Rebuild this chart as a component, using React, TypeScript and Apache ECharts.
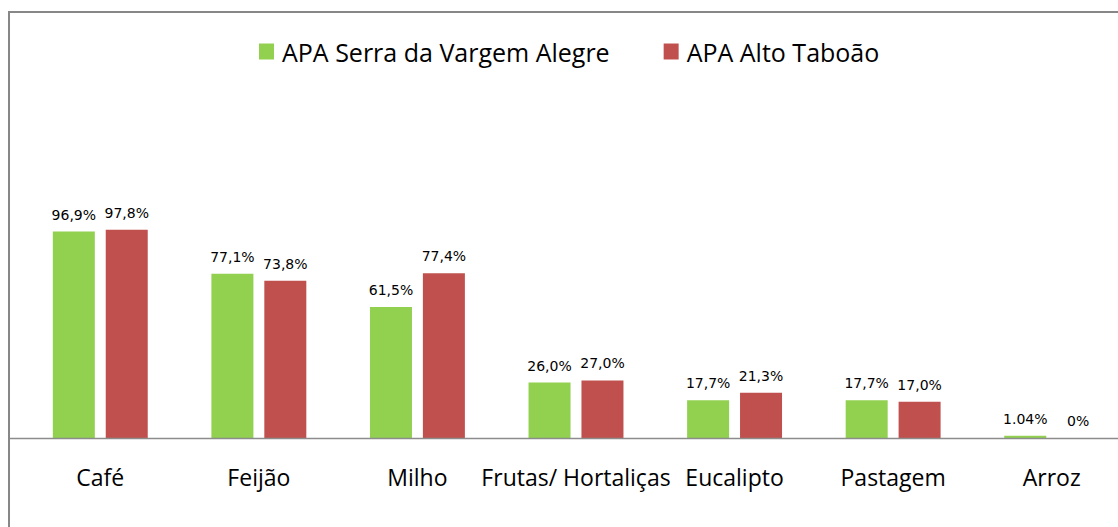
import React, { useEffect, useRef } from "react";
import * as echarts from "echarts";

const categories = ["Café", "Feijão", "Milho", "Frutas/ Hortaliças", "Eucalipto", "Pastagem", "Arroz"];
const serraValues = [96.9, 77.1, 61.5, 26.0, 17.7, 17.7, 1.04];
const serraLabels = ["96,9%", "77,1%", "61,5%", "26,0%", "17,7%", "17,7%", "1.04%"];
const taboaoValues = [97.8, 73.8, 77.4, 27.0, 21.3, 17.0, 0];
const taboaoLabels = ["97,8%", "73,8%", "77,4%", "27,0%", "21,3%", "17,0%", "0%"];
const seriesNames = ["APA Serra da Vargem Alegre", "APA Alto Taboão"];

export default function App() {
  const ref = useRef<HTMLDivElement>(null);
  useEffect(() => {
    if (!ref.current) return;
    const chart = echarts.init(ref.current, null, { renderer: "svg" });
    const labelStyle = (labels: string[]) => ({
      show: true,
      position: "top",
      distance: 10,
      fontFamily: "DejaVu Sans",
      fontSize: 14,
      color: "#000",
      formatter: (p: any) => labels[p.dataIndex],
    });
    chart.setOption({
      animation: false,
      backgroundColor: "#fff",
      legend: {
        left: 254,
        top: 34,
        itemWidth: 15,
        itemHeight: 16,
        itemGap: 54,
        icon: "rect",
        textStyle: { fontFamily: "Open Sans", fontSize: 25, color: "#000", padding: [0, 0, 0, 3] },
        data: seriesNames,
      },
      grid: { left: 21, top: 225, width: 1110, height: 213, outerBoundsMode: "none", containLabel: false },
      xAxis: {
        type: "category",
        data: categories,
        axisLine: { show: false },
        axisTick: { show: false },
        axisLabel: { margin: 27, fontFamily: "Open Sans", fontSize: 23, color: "#000", interval: 0 },
      },
      yAxis: { type: "value", min: 0, max: 100, show: false, splitLine: { show: false } },
      graphic: [
        {
          type: "rect",
          shape: { x: 9, y: 12, width: 1200, height: 600 },
          style: { fill: "none", stroke: "#878787", lineWidth: 2 },
          silent: true,
        },
        {
          type: "line",
          shape: { x1: 10, y1: 438.5, x2: 1118, y2: 438.5 },
          style: { stroke: "#8c8c8c", lineWidth: 1.5 },
          silent: true,
          z: 10,
        },
      ],
      series: [
        {
          name: seriesNames[0],
          type: "bar",
          data: serraValues,
          barWidth: 42,
          barGap: "26%",
          itemStyle: { color: "#92D050" },
          label: labelStyle(serraLabels),
        },
        {
          name: seriesNames[1],
          type: "bar",
          data: taboaoValues,
          barWidth: 42,
          itemStyle: { color: "#C0504D" },
          label: labelStyle(taboaoLabels),
        },
      ],
    });
    return () => chart.dispose();
  }, []);
  return <div ref={ref} style={{ position: "fixed", left: 0, top: 0, width: 1118, height: 527 }} />;
}
